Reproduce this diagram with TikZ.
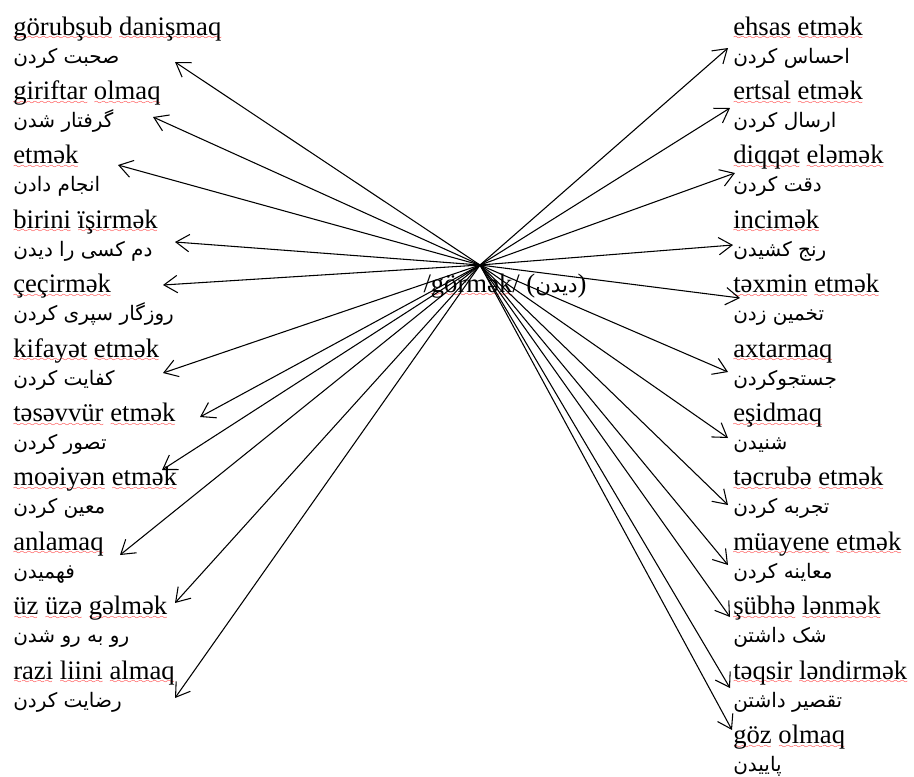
\documentclass[tikz,border=0pt]{standalone}
\usepackage{fontspec}
\setmainfont{Liberation Serif}
\newfontfamily\farsi[Script=Arabic]{DejaVu Sans}
\TeXXeTstate=1
\usetikzlibrary{arrows.meta}
\font\wavefont=lasy6
\newcommand\sq[1]{\setbox0\hbox{#1}\rlap{\textcolor{red}{\lower3.5pt\hbox to\wd0{\xleaders\hbox{\wavefont\char58}\hfil}}}\box0\relax}
\tikzset{
  az/.style={anchor=base west,inner sep=0pt,font=\fontsize{20}{24}\selectfont},
  fa/.style={anchor=base west,inner sep=0pt,font=\fontsize{15}{20}\selectfont\farsi},
  arr/.style={-{Straight Barb[length=10pt,width=13pt]},line width=0.8pt}
}

\begin{document}
\begin{tikzpicture}[x=0.75pt,y=-0.75pt]
\useasboundingbox (0,0) rectangle (914,776);
% left column
\node[az] (la1) at (13,35) {\sq{görubşub} \sq{danişmaq}};
\node[fa] (lf1) at (13,63) {\beginR صحبت کردن\endR};
\node[az] (la2) at (13,99.4) {\sq{giriftar} \sq{olmaq}};
\node[fa] (lf2) at (13,127.4) {\beginR گرفتار شدن\endR};
\node[az] (la3) at (13,163.8) {\sq{etmək}};
\node[fa] (lf3) at (13,191.8) {\beginR انجام دادن\endR};
\node[az] (la4) at (13,228.2) {\sq{birini} \sq{ïşirmək}};
\node[fa] (lf4) at (13,256.2) {\beginR دم کسی را دیدن\endR};
\node[az] (la5) at (13,292.6) {\sq{çeçirmək}};
\node[fa] (lf5) at (13,320.6) {\beginR روزگار سپری کردن\endR};
\node[az] (la6) at (13,357) {\sq{kifayət} \sq{etmək}};
\node[fa] (lf6) at (13,385) {\beginR کفایت کردن\endR};
\node[az] (la7) at (13,421.4) {\sq{təsəvvür} \sq{etmək}};
\node[fa] (lf7) at (13,449.4) {\beginR تصور کردن\endR};
\node[az] (la8) at (13,485.8) {\sq{moəiyən} \sq{etmək}};
\node[fa] (lf8) at (13,513.8) {\beginR معین کردن\endR};
\node[az] (la9) at (13,550.2) {\sq{anlamaq}};
\node[fa] (lf9) at (13,578.2) {\beginR فهمیدن\endR};
\node[az] (la10) at (13,614.6) {\sq{üz} \sq{üzə} \sq{gəlmək}};
\node[fa] (lf10) at (13,642.6) {\beginR رو به رو شدن\endR};
\node[az] (la11) at (13,679) {\sq{razi} \sq{liini} \sq{almaq}};
\node[fa] (lf11) at (13,707) {\beginR رضایت کردن\endR};
% right column
\node[az] (ra1) at (733,35) {\sq{ehsas} \sq{etmək}};
\node[fa] (rf1) at (733,63) {\beginR احساس کردن\endR};
\node[az] (ra2) at (733,99.4) {\sq{ertsal} \sq{etmək}};
\node[fa] (rf2) at (733,127.4) {\beginR ارسال کردن\endR};
\node[az] (ra3) at (733,163.8) {\sq{diqqət} \sq{eləmək}};
\node[fa] (rf3) at (733,191.8) {\beginR دقت کردن\endR};
\node[az] (ra4) at (733,228.2) {\sq{incimək}};
\node[fa] (rf4) at (733,256.2) {\beginR رنج کشیدن\endR};
\node[az] (ra5) at (733,292.6) {\sq{təxmin} \sq{etmək}};
\node[fa] (rf5) at (733,320.6) {\beginR تخمین زدن\endR};
\node[az] (ra6) at (733,357) {\sq{axtarmaq}};
\node[fa] (rf6) at (733,385) {\beginR جستجوکردن\endR};
\node[az] (ra7) at (733,421.4) {\sq{eşidmaq}};
\node[fa] (rf7) at (733,449.4) {\beginR شنیدن\endR};
\node[az] (ra8) at (733,485.8) {\sq{təcrubə} \sq{etmək}};
\node[fa] (rf8) at (733,513.8) {\beginR تجربه کردن\endR};
\node[az] (ra9) at (733,550.2) {\sq{müayene} \sq{etmək}};
\node[fa] (rf9) at (733,578.2) {\beginR معاینه کردن\endR};
\node[az] (ra10) at (733,614.6) {\sq{şübhə} \sq{lənmək}};
\node[fa] (rf10) at (733,642.6) {\beginR شک داشتن\endR};
\node[az] (ra11) at (733,679) {\sq{təqsir} \sq{ləndirmək}};
\node[fa] (rf11) at (733,707) {\beginR تقصیر داشتن\endR};
\node[az] (ra12) at (733,743.4) {\sq{göz} \sq{olmaq}};
\node[fa] (rf12) at (733,771.4) {\beginR پاییدن\endR};
% the verb in the middle
\node[az,anchor=base] (verb) at (505,292) {/\sq{görmək}/ ({\farsi\fontsize{16}{22}\selectfont\beginR دیدن\endR})};
\coordinate (hub) at (480,265);
% arrow tips
\coordinate (lt1) at (175,62);
\coordinate (lt2) at (153,117);
\coordinate (lt3) at (118,165);
\coordinate (lt4) at (175,242);
\coordinate (lt5) at (163,285);
\coordinate (lt6) at (163,373);
\coordinate (lt7) at (200,417);
\coordinate (lt8) at (162,470);
\coordinate (lt9) at (120,555);
\coordinate (lt10) at (175,603);
\coordinate (lt11) at (175,698);
\coordinate (rt1) at (728,48);
\coordinate (rt2) at (730,108);
\coordinate (rt3) at (735,173);
\coordinate (rt4) at (733,245);
\coordinate (rt5) at (740,298);
\coordinate (rt6) at (728,372);
\coordinate (rt7) at (728,438);
\coordinate (rt8) at (728,505);
\coordinate (rt9) at (728,565);
\coordinate (rt10) at (730,617);
\coordinate (rt11) at (730,688);
\coordinate (rt12) at (732,730);
\draw[arr] (hub) -- (lt1);
\draw[arr] (hub) -- (lt2);
\draw[arr] (hub) -- (lt3);
\draw[arr] (hub) -- (lt4);
\draw[arr] (hub) -- (lt5);
\draw[arr] (hub) -- (lt6);
\draw[arr] (hub) -- (lt7);
\draw[arr] (hub) -- (lt8);
\draw[arr] (hub) -- (lt9);
\draw[arr] (hub) -- (lt10);
\draw[arr] (hub) -- (lt11);
\draw[arr] (hub) -- (rt1);
\draw[arr] (hub) -- (rt2);
\draw[arr] (hub) -- (rt3);
\draw[arr] (hub) -- (rt4);
\draw[arr] (hub) -- (rt5);
\draw[arr] (hub) -- (rt6);
\draw[arr] (hub) -- (rt7);
\draw[arr] (hub) -- (rt8);
\draw[arr] (hub) -- (rt9);
\draw[arr] (hub) -- (rt10);
\draw[arr] (hub) -- (rt11);
\draw[arr] (hub) -- (rt12);
\end{tikzpicture}
\end{document}
